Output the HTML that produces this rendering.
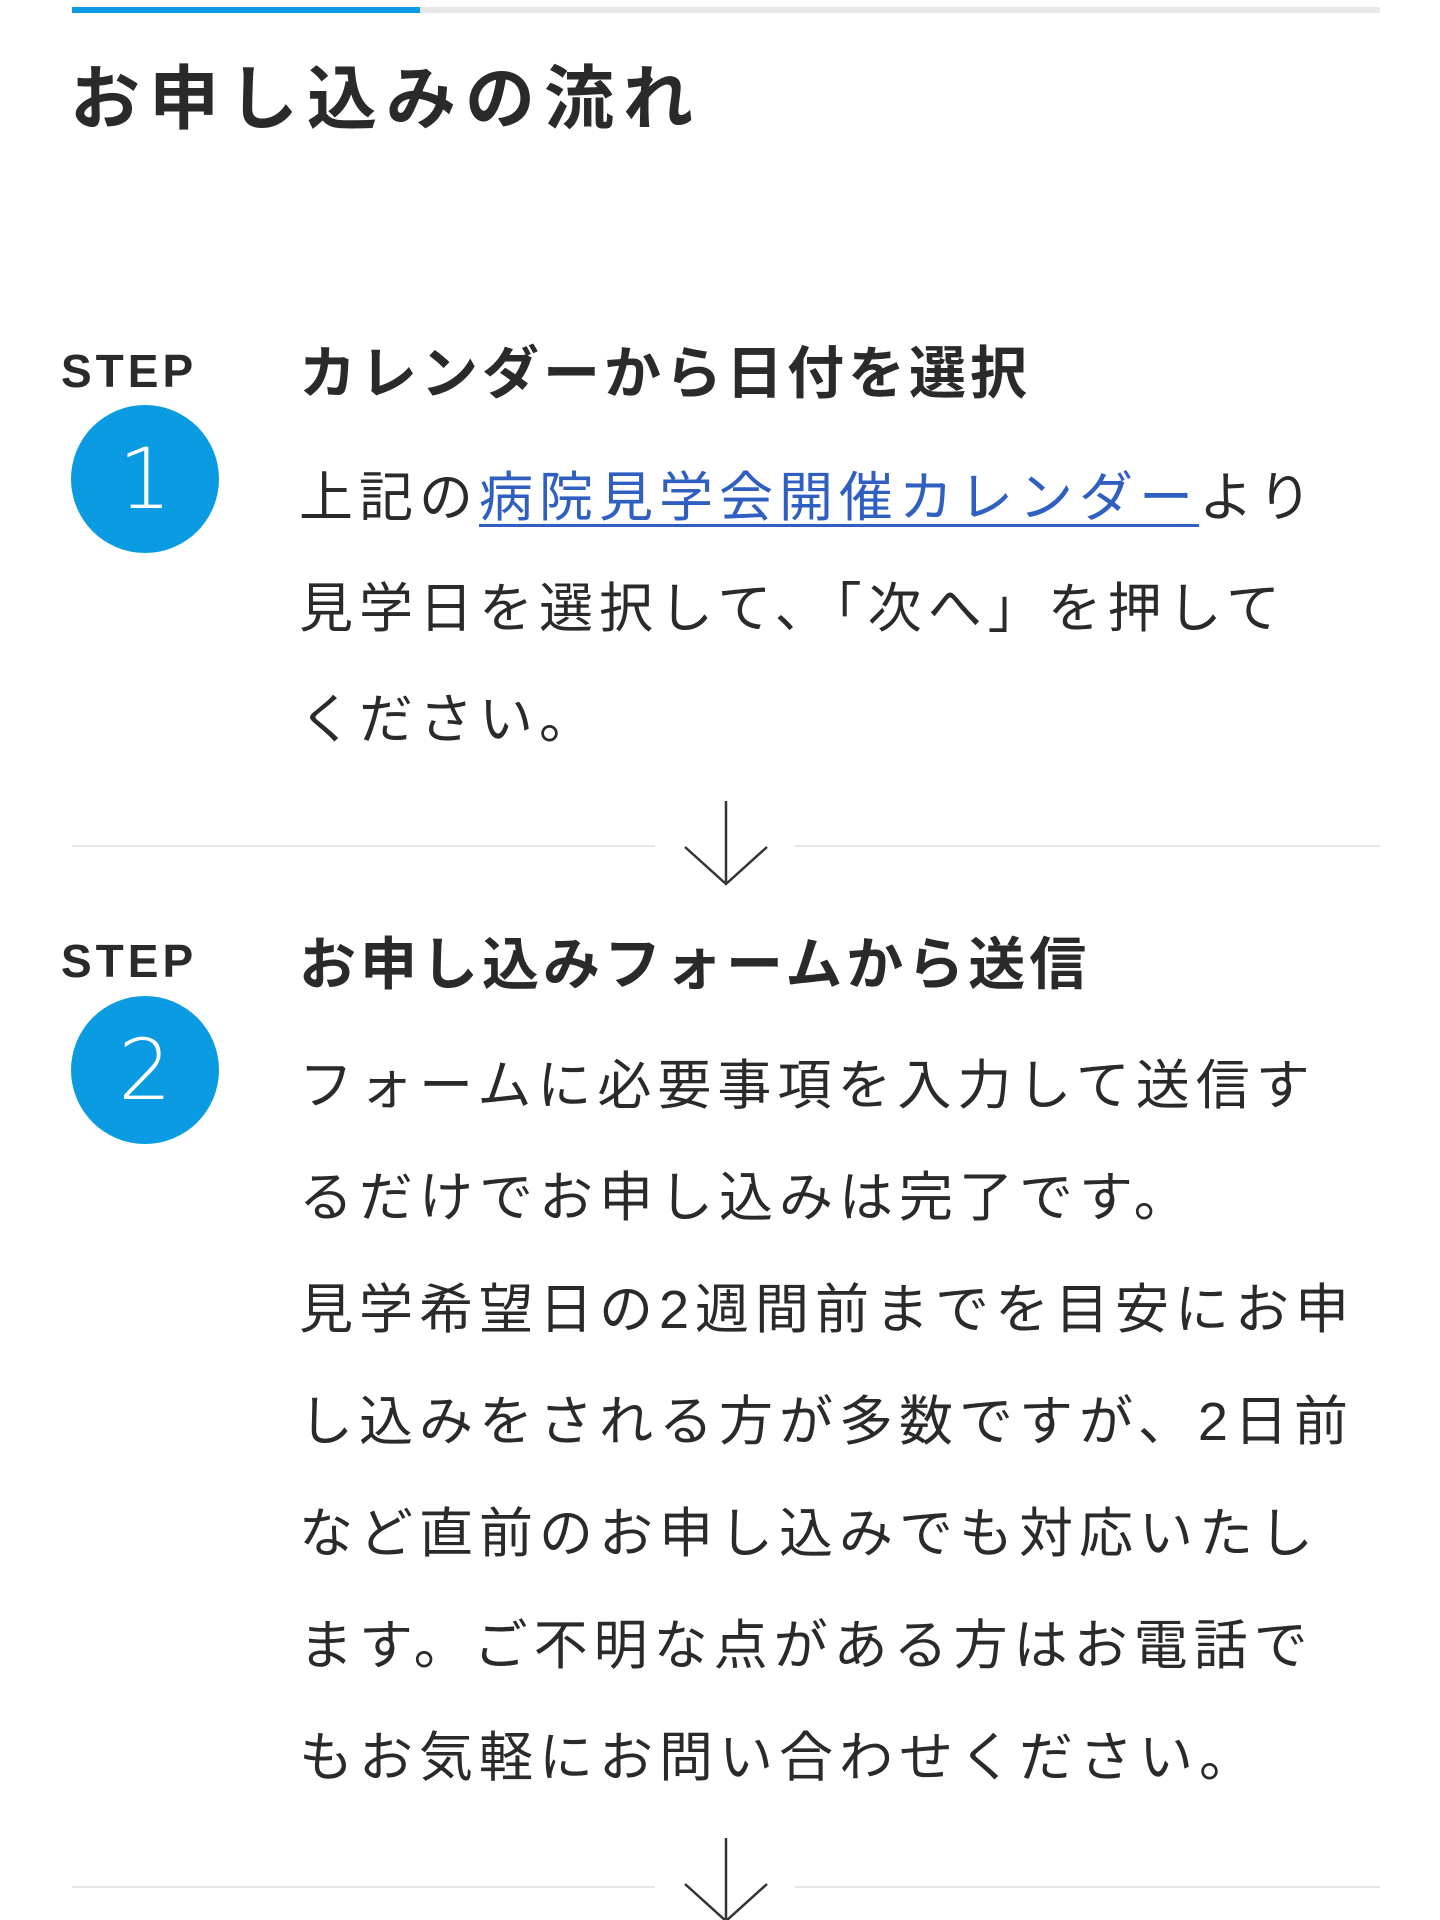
<!DOCTYPE html>
<html><head><meta charset="utf-8"><style>
html,body{margin:0;padding:0;background:#fff;width:1440px;height:1920px;overflow:hidden;position:relative}
.t{position:absolute;white-space:nowrap;color:#2a2a2a;font-family:"Liberation Sans","Noto Sans CJK JP",sans-serif}
.title{left:70px;top:59px;font-size:70px;line-height:80px;font-weight:700;letter-spacing:9px}
.step{left:61px;font-size:46px;line-height:50px;font-weight:700;letter-spacing:4px}
.h{left:299px;font-size:57px;line-height:70px;font-weight:700;letter-spacing:4px}
.b{left:299px;font-size:54px;line-height:70px;letter-spacing:6px}
.circ{position:absolute;width:148px;height:148px;border-radius:50%;background:#0a9be3;color:#fff;font-family:"DejaVu Sans","Liberation Sans",sans-serif;font-weight:300;font-size:84px;line-height:148px;text-align:center}
.line{position:absolute;height:2px;background:#e6e6e6}
a{color:#2f5fc0;text-decoration:underline;text-decoration-thickness:3px;text-underline-offset:8px}
</style></head><body>
<div style="position:absolute;left:72px;top:7px;width:1308px;height:6px;background:#e8e8e8"></div>
<div style="position:absolute;left:72px;top:7px;width:348px;height:6px;background:#0a9be3"></div>
<div class="t title">お申し込みの流れ</div>

<div class="t step" style="top:346px">STEP</div>
<div class="circ" style="left:71px;top:405px">1</div>
<div class="t h" style="top:339px">カレンダーから日付を選択</div>
<div class="t b" style="top:463px">上記の<a>病院見学会開催カレンダー</a>より</div>
<div class="t b" style="top:574px">見学日を選択して、「次へ」を押して</div>
<div class="t b" style="top:685px">ください。</div>

<div class="line" style="left:72px;top:845px;width:583px"></div>
<div class="line" style="left:795px;top:845px;width:585px"></div>
<svg style="position:absolute;left:674px;top:792px" width="110" height="100"><path d="M52 9V90M11 55L52 92L93 55" fill="none" stroke="#333" stroke-width="2.5"/></svg>

<div class="t step" style="top:936px">STEP</div>
<div class="circ" style="left:71px;top:996px">2</div>
<div class="t h" style="top:930px">お申し込みフォームから送信</div>
<div class="t b" style="top:1051px">フォームに必要事項を入力して送信す</div>
<div class="t b" style="top:1163px">るだけでお申し込みは完了です。</div>
<div class="t b" style="top:1275px">見学希望日の2週間前までを目安にお申</div>
<div class="t b" style="top:1387px">し込みをされる方が多数ですが、2日前</div>
<div class="t b" style="top:1499px">など直前のお申し込みでも対応いたし</div>
<div class="t b" style="top:1611px">ます。ご不明な点がある方はお電話で</div>
<div class="t b" style="top:1723px">もお気軽にお問い合わせください。</div>

<div class="line" style="left:72px;top:1886px;width:583px"></div>
<div class="line" style="left:795px;top:1886px;width:585px"></div>
<svg style="position:absolute;left:674px;top:1832px" width="110" height="90"><path d="M52 6V87M11 52L52 89L93 52" fill="none" stroke="#333" stroke-width="2.5"/></svg>
</body></html>
